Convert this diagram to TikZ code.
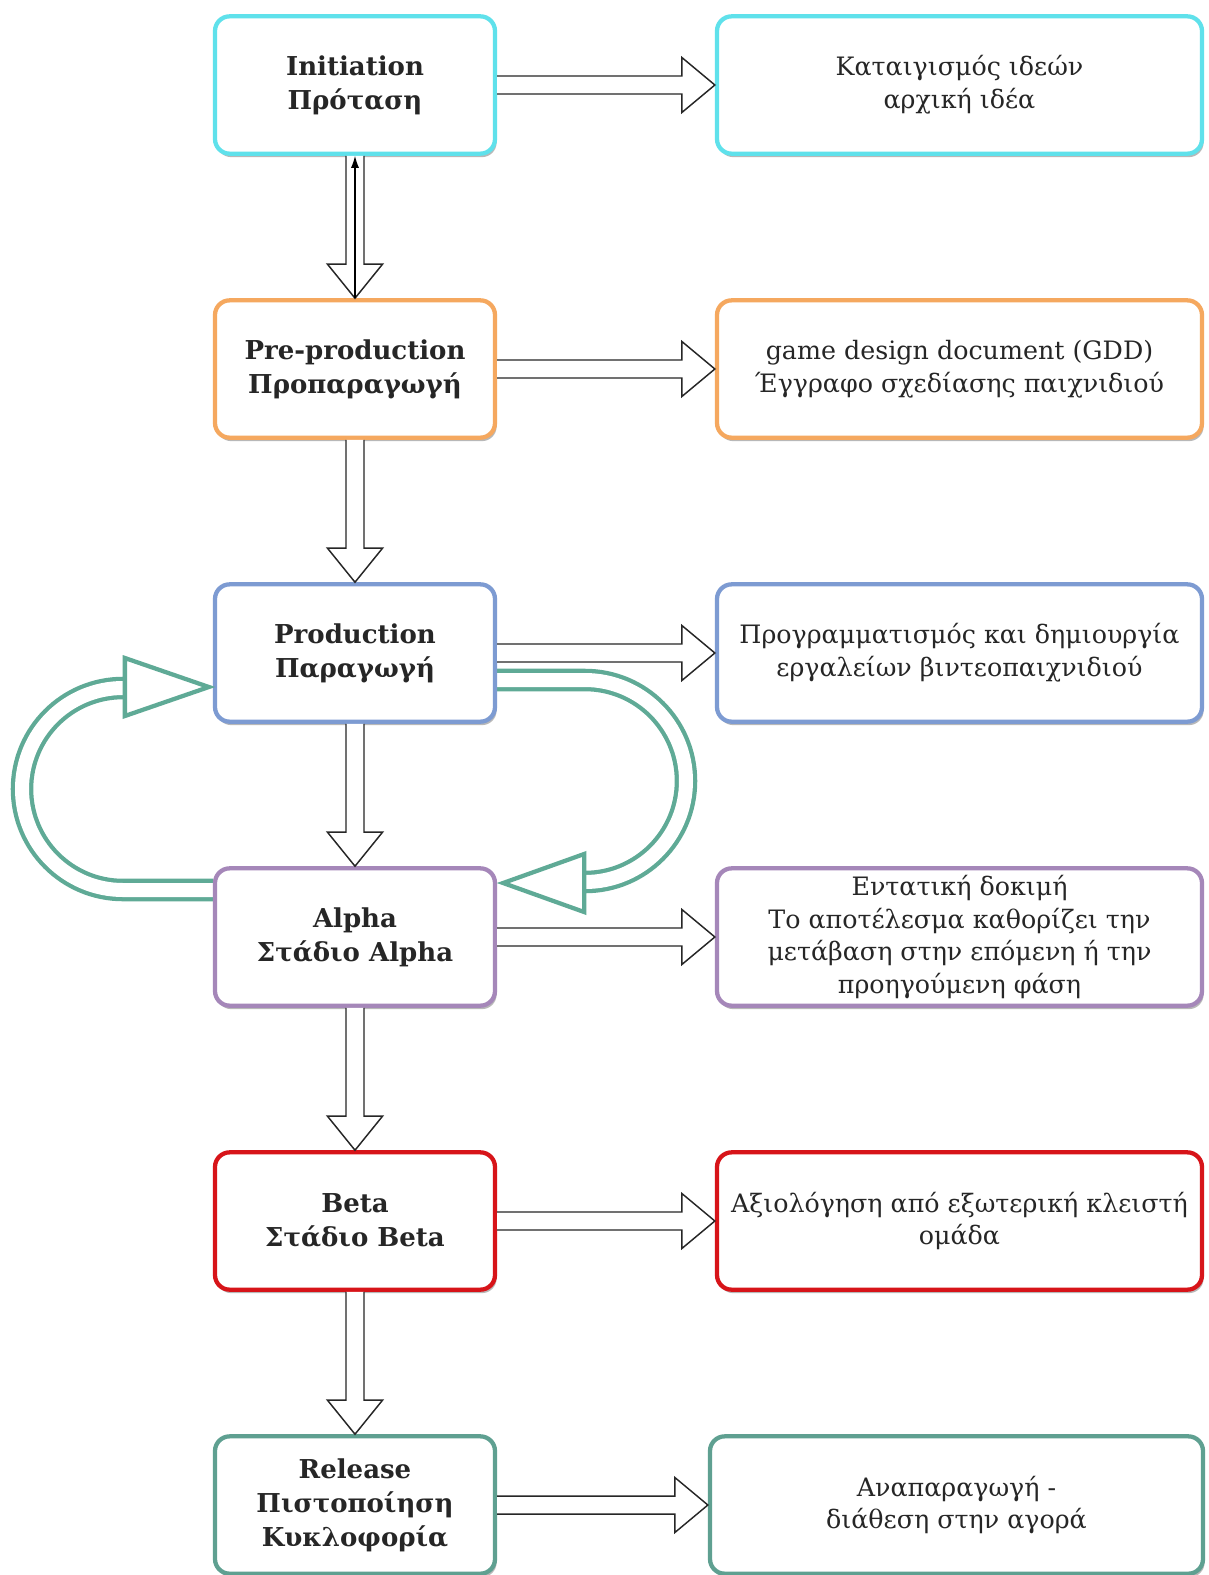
\documentclass[tikz,border=0pt]{standalone}
\usepackage{fontspec}
\setmainfont{DejaVu Serif}
\usetikzlibrary{calc,shadows,arrows.meta,backgrounds}
\definecolor{cInit}{RGB}{95,225,235}
\definecolor{cPre}{RGB}{245,168,95}
\definecolor{cProd}{RGB}{125,155,210}
\definecolor{cAlpha}{RGB}{165,135,185}
\definecolor{cBeta}{RGB}{215,20,25}
\definecolor{cRel}{RGB}{95,160,145}
\definecolor{cLoop}{RGB}{95,170,150}
\tikzset{
 box/.style={draw, line width=3.2pt, rounded corners=11pt, fill=white, align=center, text=black!85,
   drop shadow={shadow xshift=1.2pt, shadow yshift=-2.6pt, fill=black!55, opacity=0.5}},
 lbox/.style={box, minimum width=210pt, minimum height=103pt, font=\fontsize{19.5pt}{25.5pt}\selectfont\bfseries},
 rbox/.style={box, minimum width=363.75pt, minimum height=103pt, font=\fontsize{19pt}{24.5pt}\selectfont},
 blk/.style={draw=black!85, line width=1.1pt, fill=white, line join=miter},
 loopline/.style={draw=cLoop, line width=3.2pt, double=white, double distance=10.5pt},
 loophead/.style={draw=cLoop, line width=3.2pt, fill=white, line join=miter},
}
\newcommand\vblock[2]{%
 \draw[blk] ($(#1.south)+(-9,0)$) -- ($(#2.north)+(-9,-34)$) -- ($(#2.north)+(-27.5,-34)$) -- (#2.north)
   -- ($(#2.north)+(27.5,-34)$) -- ($(#2.north)+(9,-34)$) -- ($(#1.south)+(9,0)$);}
\newcommand\hblock[2]{%
 \draw[blk] ($(#1.east)+(0,-9)$) -- ($(#2.west)+(-33,-9)$) -- ($(#2.west)+(-33,-27.5)$) -- (#2.west)
   -- ($(#2.west)+(-33,27.5)$) -- ($(#2.west)+(-33,9)$) -- ($(#1.east)+(0,9)$);}
\begin{document}
\begin{tikzpicture}[x=0.75pt,y=-0.75pt]
\useasboundingbox (0,0) rectangle (1208,1575);

\node[lbox, draw=cInit]  (init)  at (355,85)   {Initiation\\Πρόταση};
\node[lbox, draw=cPre]   (pre)   at (355,369)  {Pre-production\\Προπαραγωγή};
\node[lbox, draw=cProd]  (prod)  at (355,653)  {Production\\Παραγωγή};
\node[lbox, draw=cAlpha] (alpha) at (355,937)  {Alpha\\Στάδιο Alpha};
\node[lbox, draw=cBeta]  (beta)  at (355,1221) {Beta\\Στάδιο Beta};
\node[lbox, draw=cRel]   (rel)   at (355,1505) {Release\\Πιστοποίηση\\Κυκλοφορία};

\node[rbox, draw=cInit]  (rinit)  at (959.5,85)   {Καταιγισμός ιδεών\\αρχική ιδέα};
\node[rbox, draw=cPre]   (rpre)   at (959.5,369)  {game design document (GDD)\\Έγγραφο σχεδίασης παιχνιδιού};
\node[rbox, draw=cProd]  (rprod)  at (959.5,653)  {Προγραμματισμός και δημιουργία\\εργαλείων βιντεοπαιχνιδιού};
\node[rbox, draw=cAlpha] (ralpha) at (959.5,937)  {Εντατική δοκιμή\\ Το αποτέλεσμα καθορίζει την\\μετάβαση στην επόμενη ή την\\προηγούμενη φάση};
\node[rbox, draw=cBeta]  (rbeta)  at (959.5,1221) {Αξιολόγηση από εξωτερική κλειστή\\ομάδα};
\node[rbox, draw=cRel, minimum width=369.75pt] (rrel) at (956.5,1505) {Αναπαραγωγή -\\διάθεση στην αγορά};

\begin{scope}[on background layer]
\fill[white] (0,0) rectangle (1208,1575);
\draw[loopline] ($(alpha.west)+(0,-47)$) -- (123,890) arc[start angle=90,end angle=270,radius=101] -- (130,688);
\draw[loopline] ($(prod.east)+(0,27)$) -- (585,680) arc[start angle=-90,end angle=90,radius=101] -- (578,882);
\end{scope}
\draw[loophead] ($(prod.west)+(-4,34)$) -- ++(-84,-29) -- ++(0,58) -- cycle;
\draw[loophead] ($(alpha.east)+(6,-54)$) -- ++(81,-29) -- ++(0,58) -- cycle;

\hblock{init}{rinit}
\hblock{pre}{rpre}
\hblock{prod}{rprod}
\hblock{alpha}{ralpha}
\hblock{beta}{rbeta}
\hblock{rel}{rrel}

\vblock{init}{pre}
\draw[black, line width=0.8pt, -{Latex[length=9pt,width=6pt]}] (pre.north) -- (init.south);
\vblock{pre}{prod}
\vblock{prod}{alpha}
\vblock{alpha}{beta}
\vblock{beta}{rel}
\end{tikzpicture}
\end{document}
